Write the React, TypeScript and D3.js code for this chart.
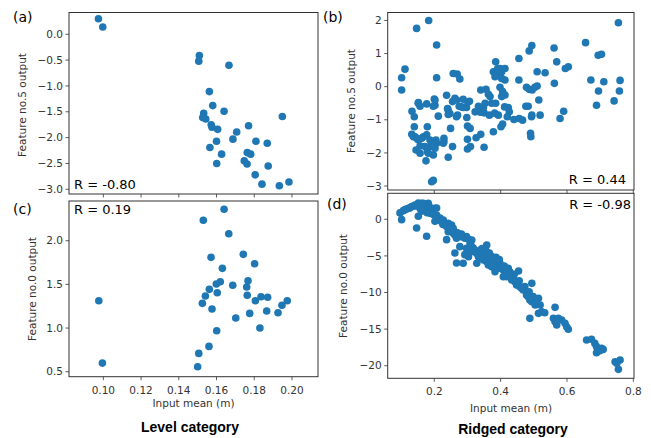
import React from "react";
import * as d3 from "d3";

// ---- Data ----
// (a) Level category: feature no.5 output
const levelX5 = [0.0974,0.0997,0.1509,0.1506,0.1666,0.1562,0.158,0.1532,0.1527,0.1543,0.164,0.1572,0.1576,0.1606,0.177,0.1949,0.1707,0.1687,0.160,0.1809,0.1869,0.1565,0.1627,0.1763,0.1781,0.1747,0.1762,0.1601,0.1874,0.1805,0.1841,0.1933,0.1984];
const levelY5 = [0.30,0.14,-0.41,-0.52,-0.60,-1.11,-1.38,-1.53,-1.61,-1.64,-1.49,-1.75,-1.80,-1.84,-1.77,-1.59,-1.89,-2.03,-2.07,-2.07,-2.11,-2.19,-2.32,-2.29,-2.32,-2.45,-2.51,-2.50,-2.55,-2.72,-2.90,-2.93,-2.86];
// (c) Level category: feature no.0 output
const levelX0 = [0.0976,0.0995,0.153,0.164,0.1665,0.1742,0.1802,0.1571,0.1631,0.1767,0.176,0.1763,0.1686,0.162,0.1599,0.1562,0.1604,0.1541,0.1525,0.1576,0.1806,0.1836,0.1871,0.1975,0.1947,0.1866,0.1926,0.1776,0.1702,0.183,0.1601,0.156,0.1506,0.150];
const levelY0 = [1.313,0.599,2.234,2.36,2.08,1.844,1.737,1.81,1.684,1.542,1.47,1.375,1.49,1.53,1.504,1.443,1.404,1.367,1.283,1.218,1.313,1.359,1.352,1.313,1.26,1.195,1.175,1.168,1.115,1.0,0.969,0.79,0.71,0.557];
// (b) Ridged category: feature no.5 output
const ridgedX5 = [0.1015,0.1015,0.1116,0.1467,0.183,0.207,0.207,0.1327,0.1397,0.1518,0.157,0.177,0.2,0.202,0.197,0.212,0.1397,0.179,0.132,0.142,0.152,0.167,0.177,0.145,0.157,0.157,0.1749,0.179,0.187,0.192,0.197,0.202,0.205,0.207,0.192,0.197,0.229,0.229,0.242,0.255,0.249,0.237,0.24,0.247,0.257,0.269,0.277,0.262,0.255,0.267,0.267,0.27,0.275,0.287,0.287,0.297,0.298,0.3,0.308,0.3,0.3,0.309,0.326,0.34,0.35,0.333,0.34,0.356,0.363,0.368,0.353,0.373,0.385,0.323,0.336,0.35,0.366,0.378,0.385,0.378,0.383,0.388,0.398,0.403,0.413,0.413,0.403,0.398,0.403,0.413,0.406,0.393,0.406,0.401,0.423,0.426,0.42,0.44,0.455,0.455,0.456,0.466,0.476,0.483,0.478,0.486,0.495,0.503,0.51,0.493,0.494,0.519,0.515,0.51,0.534,0.486,0.494,0.49,0.491,0.561,0.569,0.562,0.595,0.604,0.579,0.59,0.656,0.672,0.694,0.704,0.695,0.689,0.711,0.742,0.755,0.758,0.76,0.152,0.202,0.242,0.242,0.282,0.137,0.147,0.162,0.187,0.197,0.182,0.172,0.227,0.391,0.412,0.382,0.341,0.301,0.306,0.348];
const ridgedY5 = [-0.10,0.27,0.53,1.76,2.0,1.26,0.27,-0.74,-0.91,-0.50,-0.59,-0.52,-0.37,-0.56,-0.59,-0.89,-1.21,-1.21,-1.44,-1.51,-1.61,-1.51,-1.45,-1.91,-1.79,-2.01,-2.24,-1.96,-1.81,-1.73,-2.06,-1.86,-1.61,-1.71,-2.87,-2.83,-1.56,-1.66,-2.13,-1.81,-1.26,-0.26,-0.66,-0.81,0.40,0.38,0.23,-0.35,-0.45,-0.40,-0.91,-0.86,-0.59,-0.38,-0.63,-0.63,-0.93,-1.19,-1.26,-1.59,-1.88,-1.81,-1.54,-1.44,-1.83,-0.59,-0.10,-0.08,-0.23,-0.30,-0.50,-0.50,-0.50,-0.76,-0.76,-0.79,-0.86,-1.36,0.75,0.45,0.30,0.35,0.55,0.45,0.55,0.20,0.25,-0.02,-0.30,-0.25,-0.15,-0.86,-1.13,-1.21,-0.63,-0.76,-0.91,-0.99,0.85,0.20,-0.96,-1.01,-0.59,-0.59,-0.02,-0.08,-0.10,-0.02,0.02,-0.91,-0.86,-0.86,-0.40,0.45,0.42,1.08,1.24,-1.41,-1.51,1.17,0.75,0.10,0.55,0.60,-0.96,-0.74,1.33,0.20,0.95,0.98,-0.13,-0.56,0.15,-0.43,1.93,-0.13,0.19,-0.48,-0.40,-0.71,-0.84,-0.61,-1.51,-1.56,-1.56,-1.61,-1.76,-2.01,-1.81,-1.71,0.55,-0.61,-0.80,-0.77,-0.47,-0.44,-0.63];
// (d) Ridged category: feature no.0 output
const ridgedX0 = [0.0965,0.1015,0.1116,0.1216,0.1266,0.1367,0.1467,0.1518,0.1568,0.1618,0.1668,0.1719,0.1749,0.1769,0.1819,0.1869,0.192,0.197,0.202,0.207,0.1518,0.1467,0.1769,0.202,0.212,0.217,0.227,0.232,0.237,0.242,0.247,0.242,0.252,0.237,0.257,0.262,0.267,0.277,0.282,0.287,0.297,0.303,0.308,0.267,0.262,0.267,0.277,0.287,0.297,0.303,0.313,0.318,0.323,0.328,0.333,0.338,0.348,0.358,0.358,0.368,0.373,0.378,0.328,0.303,0.363,0.373,0.383,0.388,0.393,0.398,0.403,0.408,0.413,0.418,0.423,0.418,0.428,0.383,0.408,0.433,0.443,0.448,0.454,0.453,0.458,0.468,0.473,0.478,0.483,0.488,0.494,0.498,0.494,0.504,0.514,0.488,0.519,0.514,0.524,0.533,0.564,0.559,0.564,0.574,0.569,0.584,0.594,0.599,0.604,0.659,0.674,0.684,0.689,0.694,0.704,0.709,0.689,0.745,0.760,0.755,0.75,0.1065,0.1166,0.1317,0.1417,0.1568,0.1618,0.1668,0.1719,0.1819,0.1869,0.207,0.222,0.252,0.257,0.272,0.292,0.313,0.318,0.343,0.353,0.363,0.368,0.378,0.398,0.423,0.438,0.463,0.478,0.509,0.569,0.699,0.292,0.338,0.348,0.358,0.344,0.356,0.366,0.386,0.396,0.411,0.428,0.441,0.456,0.486,0.161,0.178,0.189,0.226,0.246,0.282];
const ridgedY0 = [0.87,-0.05,1.32,1.50,1.55,1.78,1.82,2.23,1.96,2.19,1.73,2.10,1.37,1.96,2.19,1.64,1.28,0.64,1.50,1.55,0.41,-1.18,-2.32,-0.27,-0.09,0.18,-0.09,-0.55,-1.00,-0.55,-1.00,-1.69,-1.46,-2.78,-1.91,-2.14,-1.82,-2.14,-2.37,-2.37,-2.37,-2.73,-3.28,-2.60,-4.60,-5.97,-3.74,-6.01,-3.96,-4.33,-3.74,-3.96,-4.42,-4.65,-5.10,-4.19,-4.42,-3.51,-4.65,-4.87,-5.10,-5.56,-6.01,-5.10,-6.24,-6.47,-5.79,-6.24,-6.10,-6.01,-6.47,-6.92,-7.38,-6.92,-6.70,-7.84,-7.84,-7.15,-7.84,-8.29,-8.52,-8.97,-7.06,-8.75,-9.20,-9.66,-9.20,-9.89,-10.57,-11.03,-11.25,-10.57,-8.75,-11.71,-10.80,-13.53,-11.71,-12.85,-12.62,-12.76,-12.03,-13.53,-13.99,-13.53,-14.44,-13.76,-14.21,-14.67,-15.03,-16.49,-16.40,-16.95,-17.40,-17.77,-17.63,-17.77,-18.22,-19.45,-19.23,-20.50,-19.68,1.18,1.41,1.73,1.96,1.50,1.28,2.19,1.50,1.50,0.82,0.59,-0.32,-0.77,-1.23,-1.91,-2.60,-2.82,-4.42,-4.65,-5.10,-5.33,-5.79,-6.24,-6.70,-7.61,-8.06,-9.43,-10.34,-11.48,-13.99,-17.95,-4.83,-5.33,-5.56,-5.79,-4.0,-4.3,-4.6,-5.2,-5.5,-6.4,-7.2,-7.5,-8.4,-9.9,1.1,0.9,1.0,-0.7,-1.3,-2.0];

const levelXTicks = [0.10, 0.12, 0.14, 0.16, 0.18, 0.20];
const level5YTicks = [0.0, -0.5, -1.0, -1.5, -2.0, -2.5, -3.0];
const level0YTicks = [0.5, 1.0, 1.5, 2.0];
const ridgedXTicks = [0.2, 0.4, 0.6, 0.8];
const ridged5YTicks = [2, 1, 0, -1, -2, -3];
const ridged0YTicks = [0, -5, -10, -15, -20];

const BLUE = "#1f77b4";
const AXC = "#333333";
const FONT = "DejaVu Sans, sans-serif";
const fmtMinus = (s: string) => s.replace("-", "\u2212");

type PanelProps = {
  left: number; top: number; right: number; bottom: number;
  xDomain: [number, number]; yDomain: [number, number];
  xTicks: number[]; yTicks: number[];
  xFmt: (v: number) => string; yFmt: (v: number) => string;
  showXLabels: boolean;
  xs: number[]; ys: number[];
};

function Panel(p: PanelProps) {
  const x = d3.scaleLinear().domain(p.xDomain).range([p.left, p.right]);
  const y = d3.scaleLinear().domain(p.yDomain).range([p.bottom, p.top]);
  return (
    <g>
      {p.xs.map((v, i) => (
        <circle key={i} cx={x(v)} cy={y(p.ys[i])} r={3.8} fill={BLUE} />
      ))}
      <rect x={p.left} y={p.top} width={p.right - p.left} height={p.bottom - p.top}
        fill="none" stroke={AXC} strokeWidth={1} />
      {p.yTicks.map((t) => (
        <g key={"y" + t}>
          <line x1={p.left - 3.5} x2={p.left} y1={y(t)} y2={y(t)} stroke={AXC} strokeWidth={0.8} />
          <text x={p.left - 6} y={y(t)} dy="0.35em" textAnchor="end" fontSize={10.5}
            fill="#333" fontFamily={FONT}>{fmtMinus(p.yFmt(t))}</text>
        </g>
      ))}
      {p.xTicks.map((t) => (
        <g key={"x" + t}>
          <line x1={x(t)} x2={x(t)} y1={p.bottom} y2={p.bottom + 3.5} stroke={AXC} strokeWidth={0.8} />
          {p.showXLabels && (
            <text x={x(t)} y={p.bottom + 17} textAnchor="middle" fontSize={10.5}
              fill="#333" fontFamily={FONT}>{p.xFmt(t)}</text>
          )}
        </g>
      ))}
    </g>
  );
}

export default function App() {
  const f2 = (v: number) => v.toFixed(2);
  const f1 = (v: number) => v.toFixed(1);
  const f0 = (v: number) => v.toFixed(0);
  return (
    <svg width={651} height={438} style={{ position: "absolute", left: 0, top: 0, background: "#fff" }}>
      <rect x={0} y={0} width={651} height={438} fill="#fff" />
      <Panel left={69} top={12.5} right={318} bottom={194} xDomain={[0.0818, 0.2138]} yDomain={[-3.091, 0.421]}
        xTicks={levelXTicks} yTicks={level5YTicks} xFmt={f2} yFmt={f1} showXLabels={false}
        xs={levelX5} ys={levelY5} />
      <Panel left={69} top={201} right={318} bottom={376.7} xDomain={[0.0818, 0.2138]} yDomain={[0.443, 2.455]}
        xTicks={levelXTicks} yTicks={level0YTicks} xFmt={f2} yFmt={f1} showXLabels={true}
        xs={levelX0} ys={levelY0} />
      <Panel left={387.7} top={12.5} right={634} bottom={190} xDomain={[0.0595, 0.802]} yDomain={[-3.12, 2.24]}
        xTicks={ridgedXTicks} yTicks={ridged5YTicks} xFmt={f1} yFmt={f0} showXLabels={false}
        xs={ridgedX5} ys={ridgedY5} />
      <Panel left={387.7} top={193.3} right={634} bottom={378.3} xDomain={[0.0595, 0.802]} yDomain={[-21.72, 3.55]}
        xTicks={ridgedXTicks} yTicks={ridged0YTicks} xFmt={f1} yFmt={f0} showXLabels={true}
        xs={ridgedX0} ys={ridgedY0} />

      {/* R annotations */}
      <text x={74} y={189} fontSize={13} fontFamily={FONT} fill="#000">R = -0.80</text>
      <text x={626} y={184} textAnchor="end" fontSize={13} fontFamily={FONT} fill="#000">R = 0.44</text>
      <text x={74} y={214} fontSize={13} fontFamily={FONT} fill="#000">R = 0.19</text>
      <text x={631} y={209} textAnchor="end" fontSize={13} fontFamily={FONT} fill="#000">R = -0.98</text>

      {/* panel labels */}
      <text x={13} y={22} fontSize={14} fontFamily={FONT} fill="#000">(a)</text>
      <text x={323} y={22} fontSize={14} fontFamily={FONT} fill="#000">(b)</text>
      <text x={13} y={214} fontSize={14} fontFamily={FONT} fill="#000">(c)</text>
      <text x={327} y={209} fontSize={14} fontFamily={FONT} fill="#000">(d)</text>

      {/* y axis labels */}
      <text transform="translate(26,105) rotate(-90)" textAnchor="middle" fontSize={10.5} fontFamily={FONT} fill="#333">Feature no.5 output</text>
      <text transform="translate(355,101) rotate(-90)" textAnchor="middle" fontSize={10.5} fontFamily={FONT} fill="#333">Feature no.5 output</text>
      <text transform="translate(35.5,289) rotate(-90)" textAnchor="middle" fontSize={10.5} fontFamily={FONT} fill="#333">Feature no.0 output</text>
      <text transform="translate(346.5,286) rotate(-90)" textAnchor="middle" fontSize={10.5} fontFamily={FONT} fill="#333">Feature no.0 output</text>

      {/* x axis labels */}
      <text x={193.5} y={407} textAnchor="middle" fontSize={10.5} fontFamily={FONT} fill="#333">Input mean (m)</text>
      <text x={511} y={412} textAnchor="middle" fontSize={10.5} fontFamily={FONT} fill="#333">Input mean (m)</text>

      {/* category titles */}
      <text x={190} y={432} textAnchor="middle" fontSize={14} fontWeight="bold" fontFamily="Liberation Sans, Arial, sans-serif" fill="#000">Level category</text>
      <text x={513} y={434} textAnchor="middle" fontSize={14} fontWeight="bold" fontFamily="Liberation Sans, Arial, sans-serif" fill="#000">Ridged category</text>
    </svg>
  );
}
